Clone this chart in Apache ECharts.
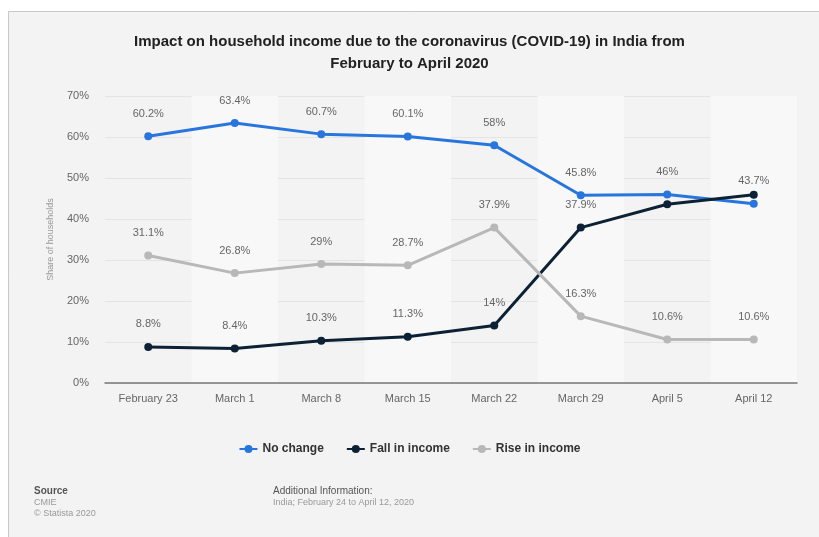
<!DOCTYPE html>
<html><head><meta charset="utf-8">
<script src="https://cdn.jsdelivr.net/npm/echarts@6/dist/echarts.min.js"></script>
<style>html,body{margin:0;padding:0;background:#fff}#c{width:819px;height:537px}</style>
</head><body><div id="c"></div>
<script>
var categories = ['February 23','March 1','March 8','March 15','March 22','March 29','April 5','April 12'];
var noChange = [60.2, 63.4, 60.7, 60.1, 58, 45.8, 46, 43.7];
var fallIncome = [8.8, 8.4, 10.3, 11.3, 14, 37.9, 43.6, 45.9];
var riseIncome = [31.1, 26.8, 29, 28.7, 37.9, 16.3, 10.6, 10.6];
var fallHiddenLabels = [6, 7];
var yTicks = [0, 10, 20, 30, 40, 50, 60, 70];

var chart = echarts.init(document.getElementById('c'));
var font = 'Liberation Sans, Arial, sans-serif';
function lbl(v){ return v + '%'; }
function mk(name, data, color, hidden){
  return {
    name: name, type: 'line', data: data.map(function(v,i){
      var o = {value: v};
      if (hidden && hidden.indexOf(i) >= 0) o.label = {show:false};
      return o;
    }),
    symbol: 'circle', symbolSize: 8,
    lineStyle: {width: 3, color: color},
    itemStyle: {color: color},
    label: {show: true, position: 'top', distance: 13, color: '#666', fontSize: 11, fontFamily: font,
      formatter: function(p){ return lbl(p.value); }},
    emphasis: {disabled: true}
  };
}
chart.setOption({
  animation: false,
  backgroundColor: '#fff',
  graphic: [
    {type:'rect', shape:{x:8.5, y:11.5, width:830, height:540}, style:{fill:'#f3f3f3', stroke:'#c8c8c8', lineWidth:1}, z:-10, silent:true},
    {type:'text', left:34, top:486, style:{text:'Source', font:'bold 10px ' + font, fill:'#555'}},
    {type:'text', left:34, top:498, style:{text:'CMIE', font:'9px ' + font, fill:'#999'}},
    {type:'text', left:34, top:509, style:{text:'© Statista 2020', font:'9px ' + font, fill:'#999'}},
    {type:'text', left:273, top:486, style:{text:'Additional Information:', font:'10px ' + font, fill:'#555'}},
    {type:'text', left:273, top:498, style:{text:'India; February 24 to April 12, 2020', font:'9px ' + font, fill:'#999'}}
  ],
  title: {
    text: 'Impact on household income due to the coronavirus (COVID-19) in India from\nFebruary to April 2020',
    left: 'center', top: 26,
    textStyle: {fontSize: 15, fontWeight: 'bold', color: '#222', lineHeight: 22, fontFamily: font}
  },
  legend: {
    top: 438, left: 'center', itemGap: 22, itemWidth: 18, itemHeight: 10,
    textStyle: {fontSize: 12, fontWeight: 'bold', color: '#333', fontFamily: font},
    data: ['No change','Fall in income','Rise in income']
  },
  grid: {left: 105, right: 22, top: 96, bottom: 154},
  xAxis: {
    type: 'category', data: categories, boundaryGap: true,
    axisLine: {lineStyle: {color: '#777', width: 1.5}},
    axisTick: {show: false},
    axisLabel: {color: '#666', fontSize: 11, margin: 10, fontFamily: font},
    splitLine: {show: false},
    splitArea: {show: true, areaStyle: {color: ['rgba(0,0,0,0)', '#f8f8f8']}}
  },
  yAxis: {
    type: 'value', min: 0, max: 70, interval: 10,
    name: 'Share of households', nameLocation: 'middle', nameGap: 50,
    nameTextStyle: {color: '#999', fontSize: 9, fontFamily: font},
    axisLine: {show: false}, axisTick: {show: false},
    axisLabel: {color: '#666', fontSize: 11, margin: 16, fontFamily: font,
      formatter: function(v){ return yTicks.indexOf(v) >= 0 ? v + '%' : ''; }},
    splitLine: {lineStyle: {color: '#e4e4e4', width: 1}}
  },
  series: [
    mk('No change', noChange, '#2876dd'),
    mk('Fall in income', fallIncome, '#0d2135', fallHiddenLabels),
    mk('Rise in income', riseIncome, '#b8b8b8')
  ]
});
</script></body></html>
